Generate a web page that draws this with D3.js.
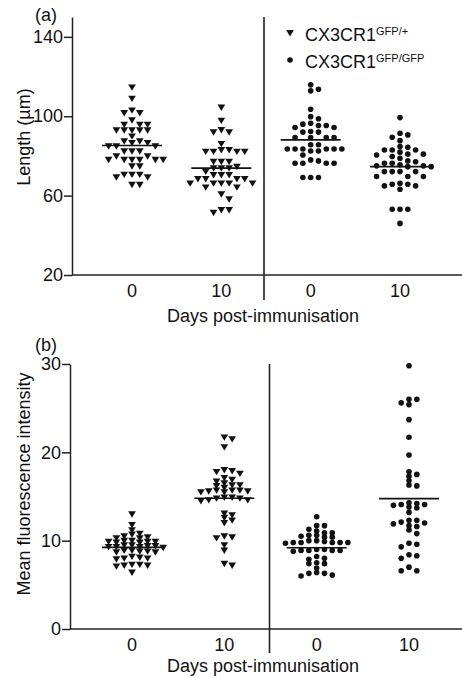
<!DOCTYPE html>
<html>
<head>
<meta charset="utf-8">
<script src="https://cdn.jsdelivr.net/npm/d3@7"></script>
<style>
	body { margin: 0; background: #fff; }
	svg { font-family: "Liberation Sans", Arial, sans-serif; }
</style>
</head>
<body>
<div id="chart"></div>
<script>
// x categories (days post-immunisation), first two = GFP/+, last two = GFP/GFP
const dayLabels = ["0", "10", "0", "10"];
const genotypes = [
	{ base: "CX3CR1", sup: "GFP/+", shape: "triangle" },
	{ base: "CX3CR1", sup: "GFP/GFP", shape: "circle" }
];

// (a) Length (µm)
const lengthHetD0 = [114.6, 108.9, 103.0, 101.7, 101.7, 98.0, 95.8, 95.8, 95.8, 93.0, 93.0, 93.0, 93.0, 93.0,
	89.9, 87.4, 87.4, 86.6, 86.6, 84.9, 84.9, 84.9, 82.4, 82.4, 82.4, 79.9, 79.9,
	78.1, 78.1, 78.1, 78.1, 78.1, 78.1, 74.8, 74.8, 70.6, 70.6, 70.6, 69.3, 69.3, 65.5, 65.5];
const lengthHetD10 = [104.4, 97.8, 93.1, 92.0, 92.0, 86.1, 83.0, 83.0, 82.2, 82.2, 82.2, 82.2,
	77.1, 77.1, 77.1, 74.6, 73.8, 73.8, 73.8, 72.1, 70.4, 70.4, 70.4, 68.4, 68.4, 68.4, 68.4,
	66.2, 66.2, 66.2, 66.2, 66.2, 64.2, 64.2, 60.7, 58.2, 52.8, 52.8, 51.4];
const lengthKoD0 = [115.8, 112.8, 113.6, 103.5, 99.8, 98.7, 96.5, 95.3, 94.3, 94.3, 95.3, 96.0,
	92.3, 92.0, 92.0, 89.3, 89.3, 89.3, 89.3, 85.6, 85.6, 83.5, 83.5, 83.5, 83.5, 83.5, 83.5,
	82.5, 82.5, 80.5, 78.0, 76.3, 76.3, 76.3, 76.3, 77.5, 69.1, 69.1, 69.1];
const lengthKoD10 = [99.3, 91.4, 89.4, 87.7, 90.6, 84.4, 83.0, 81.9, 83.0, 83.0, 84.7,
	80.9, 80.5, 78.8, 77.5, 79.7, 80.9, 76.3, 75.0, 74.6, 77.1, 76.3, 74.6, 75.0, 75.5,
	72.1, 72.1, 72.1, 72.1, 69.6, 69.6, 69.6, 65.7, 64.9, 63.2, 64.9, 65.7, 66.2,
	53.1, 53.1, 53.1, 46.0];

// (b) Mean fluorescence intensity
const mfiHetD0 = [13.0, 11.8, 11.2, 10.7, 10.5, 10.4, 10.3, 10.3, 10.8,
	10.0, 9.9, 9.9, 9.8, 9.8, 9.9, 10.0, 9.5, 9.4, 9.3, 9.3, 9.2, 9.3, 9.4, 9.5,
	8.9, 8.8, 8.8, 8.7, 8.7, 8.9, 8.1, 8.0, 7.9, 8.0, 8.2, 7.3, 7.2, 7.1, 7.2, 7.3, 6.4];
const mfiHetD10 = [21.7, 21.5, 20.6, 18.0, 17.9, 17.8, 17.6, 17.1, 16.9,
	16.7, 16.5, 16.3, 16.3, 16.2, 16.0, 15.7, 15.6, 15.5, 15.6, 15.7, 15.5, 15.7,
	14.9, 14.8, 14.6, 14.5, 14.6, 14.8, 14.9, 13.1, 12.9, 12.6, 12.3, 12.0,
	10.5, 10.4, 10.3, 9.5, 8.9, 7.4, 7.2];
const mfiKoD0 = [12.7, 11.7, 11.3, 10.9, 10.9, 11.1, 11.7, 10.6, 10.4, 10.0, 10.0, 10.4, 10.5, 10.6,
	9.8, 9.8, 9.7, 9.8, 9.9, 9.8, 9.8, 9.0, 8.9, 8.8, 9.0, 8.9, 8.9, 8.9,
	8.2, 7.9, 8.0, 7.4, 7.4, 7.5, 6.9, 6.4, 6.1, 6.0, 6.3, 6.3];
const mfiKoD10 = [29.8, 26.0, 25.6, 25.4, 26.0, 23.7, 21.7, 19.7, 17.5, 17.3, 17.8, 16.8, 16.2, 16.3,
	14.3, 14.1, 14.0, 14.2, 14.1, 13.8, 13.2, 13.7, 12.3, 12.0, 11.9, 12.1, 12.3,
	11.6, 11.2, 11.7, 10.8, 9.7, 9.3, 9.6, 8.3, 8.0, 8.4, 7.0, 6.6, 6.6];

const lengthTicks = [20, 60, 100, 140];
const mfiTicks = [0, 10, 20, 30];

const width = 462, height = 678;
const svg = d3.select("#chart").append("svg")
	.attr("width", width)
	.attr("height", height);

// down-pointing triangle
function triangle(s) {
	return `M${-s * 0.6},${-s * 0.45}L${s * 0.6},${-s * 0.45}L0,${s * 0.55}Z`;
}

function drawMarker(sel, shape) {
	if (shape === "triangle") {
		sel.append("path").attr("d", triangle(6.4)).attr("fill", "#111");
	} else {
		sel.append("circle").attr("r", 2.8).attr("fill", "#111");
	}
}

// simple column beeswarm, roughly like Prism scatter plots
function swarm(values, cx, y, step, minDy) {
	const pts = values.map(v => ({ v: v, py: y(v) })).sort((a, b) => a.py - b.py);
	const placed = [];
	pts.forEach(d => {
		for (let k = 0; k < 30; k++) {
			const col = k === 0 ? 0 : (k % 2 ? (k + 1) / 2 : -k / 2);
			if (!placed.some(p => p.col === col && Math.abs(p.py - d.py) < minDy)) {
				d.col = col;
				break;
			}
		}
		placed.push(d);
	});
	pts.forEach(d => d.px = cx + d.col * step);
	return pts;
}

function drawPanel(opt) {
	const g = svg.append("g");

	const y = d3.scaleLinear().domain(opt.yDomain).range(opt.yRange);
	const x = d3.scalePoint().domain(d3.range(4)).range(opt.xRange);

	// y axis
	const yAxis = g.append("g")
		.attr("transform", `translate(${opt.left},0)`)
		.call(d3.axisLeft(y).tickValues(opt.ticks).tickSize(8).tickSizeOuter(0).tickPadding(1));
	yAxis.selectAll("path, line").attr("stroke", "#222").attr("stroke-width", 1.5);
	yAxis.selectAll("text").attr("font-size", 18).attr("fill", "#111")
		.attr("font-family", "'Liberation Sans', Arial, sans-serif");

	// x baseline
	g.append("line")
		.attr("x1", opt.left).attr("x2", width)
		.attr("y1", opt.yRange[0]).attr("y2", opt.yRange[0])
		.attr("stroke", "#222").attr("stroke-width", 1.5);

	// divider between genotypes
	const divX = (x(1) + x(2)) / 2 + opt.divShift;
	g.append("line")
		.attr("x1", divX).attr("x2", divX)
		.attr("y1", opt.yRange[1]).attr("y2", opt.divBottom)
		.attr("stroke", "#222").attr("stroke-width", 1.6);

	// x labels
	g.selectAll("text.day")
		.data(dayLabels)
		.join("text")
		.attr("class", "day")
		.attr("x", (d, i) => x(i))
		.attr("y", opt.yRange[0] + 22)
		.attr("text-anchor", "middle")
		.attr("font-size", 18)
		.attr("fill", "#111")
		.text(d => d);

	g.append("text")
		.attr("x", 263)
		.attr("y", opt.xTitleY)
		.attr("text-anchor", "middle")
		.attr("font-size", 18)
		.attr("fill", "#111")
		.text("Days post-immunisation");

	g.append("text")
		.attr("transform", `translate(30,${opt.yTitleY}) rotate(-90)`)
		.attr("text-anchor", "middle")
		.attr("font-size", 18)
		.attr("fill", "#111")
		.text(opt.yTitle);

	g.append("text")
		.attr("x", 35)
		.attr("y", opt.tagY)
		.attr("font-size", 18)
		.attr("fill", "#111")
		.text(opt.tag);

	// points + mean lines
	opt.series.forEach((vals, i) => {
		const shape = i < 2 ? "triangle" : "circle";
		const pts = swarm(vals, x(i), y, 7.8, opt.minDy);
		g.append("g").selectAll("g")
			.data(pts)
			.join("g")
			.attr("transform", d => `translate(${d.px},${d.py})`)
			.each(function() { drawMarker(d3.select(this), shape); });

		const m = y(d3.mean(vals));
		g.append("line")
			.attr("x1", x(i) - 30).attr("x2", x(i) + 30)
			.attr("y1", m).attr("y2", m)
			.attr("stroke", "#111").attr("stroke-width", 1.6);
	});
}

drawPanel({
	tag: "(a)", tagY: 21,
	left: 72,
	yDomain: [20, 150], yRange: [275, 17],
	xRange: [132, 400],
	divShift: -2, divBottom: 300,
	ticks: lengthTicks, minDy: 5.5,
	yTitle: "Length (µm)", yTitleY: 137,
	xTitleY: 322,
	series: [lengthHetD0, lengthHetD10, lengthKoD0, lengthKoD10]
});

drawPanel({
	tag: "(b)", tagY: 351,
	left: 70,
	yDomain: [0, 30], yRange: [629, 364],
	xRange: [132, 409],
	divShift: -1, divBottom: 653,
	ticks: mfiTicks, minDy: 4.2,
	yTitle: "Mean fluorescence intensity", yTitleY: 484,
	xTitleY: 672,
	series: [mfiHetD0, mfiHetD10, mfiKoD0, mfiKoD10]
});

// legend
const legend = svg.append("g");
genotypes.forEach((gt, i) => {
	const row = legend.append("g").attr("transform", `translate(290,${33 + i * 27})`);
	drawMarker(row, gt.shape);
	const t = row.append("text")
		.attr("x", 15)
		.attr("y", 8)
		.attr("font-size", 18)
		.attr("fill", "#111");
	t.append("tspan").text(gt.base);
	t.append("tspan").attr("font-size", 11).attr("dy", -6).text(gt.sup);
});
</script>
</body>
</html>
